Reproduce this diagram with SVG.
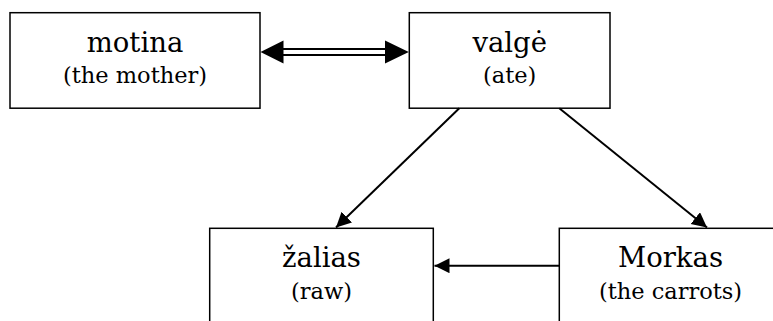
<svg xmlns="http://www.w3.org/2000/svg" width="773" height="321" viewBox="0 0 773 321">
  <style>
    .box { fill: #ffffff; stroke: #000000; stroke-width: 1.5; }
    .main { font-family: "DejaVu Serif", serif; font-size: 27.5px; fill: #000000; text-anchor: middle; }
    .sub { font-family: "DejaVu Serif", serif; font-size: 22.5px; fill: #000000; text-anchor: middle; }
    .edge { stroke: #000000; stroke-width: 2; fill: none; }
    .head { fill: #000000; stroke: none; }
  </style>
  <defs>
    <marker id="arrow" markerUnits="userSpaceOnUse" markerWidth="16" markerHeight="16" refX="15" refY="7.5" orient="auto">
      <path d="M0,0 L15,7.5 L0,15 Z" class="head"/>
    </marker>
  </defs>

  <rect width="773" height="321" fill="#ffffff"/>

  <!-- nodes -->
  <g id="motina">
    <rect class="box" x="10" y="12.7" width="250" height="95.5"/>
    <text class="main" x="135" y="52">motina</text>
    <text class="sub" x="135" y="83">(the mother)</text>
  </g>
  <g id="valge">
    <rect class="box" x="409.3" y="12.7" width="200.7" height="95.5"/>
    <text class="main" x="509.7" y="52">valgė</text>
    <text class="sub" x="509.7" y="83">(ate)</text>
  </g>
  <g id="zalias">
    <rect class="box" x="209.7" y="228.3" width="223.6" height="95.5"/>
    <text class="main" x="321.5" y="267">žalias</text>
    <text class="sub" x="321.5" y="299">(raw)</text>
  </g>
  <g id="morkas">
    <rect class="box" x="559.3" y="228.3" width="222" height="95.5"/>
    <text class="main" x="670.5" y="267">Morkas</text>
    <text class="sub" x="670.5" y="299">(the carrots)</text>
  </g>

  <!-- connectors -->
  <g id="connectors">
    <!-- double-lined two-way link between motina and valgė -->
    <line class="edge" x1="282" y1="49" x2="386" y2="49"/>
    <line class="edge" x1="282" y1="55" x2="386" y2="55"/>
    <polygon class="head" points="260.5,52 283.5,40.5 283.5,63.5"/>
    <polygon class="head" points="408.8,52 385,40.5 385,63.5"/>

    <line class="edge" x1="459.3" y1="108.3" x2="336" y2="227.5" marker-end="url(#arrow)"/>
    <line class="edge" x1="559.3" y1="108.3" x2="707" y2="227.5" marker-end="url(#arrow)"/>
    <line class="edge" x1="559.3" y1="265.7" x2="434.5" y2="265.7" marker-end="url(#arrow)"/>
  </g>
</svg>
